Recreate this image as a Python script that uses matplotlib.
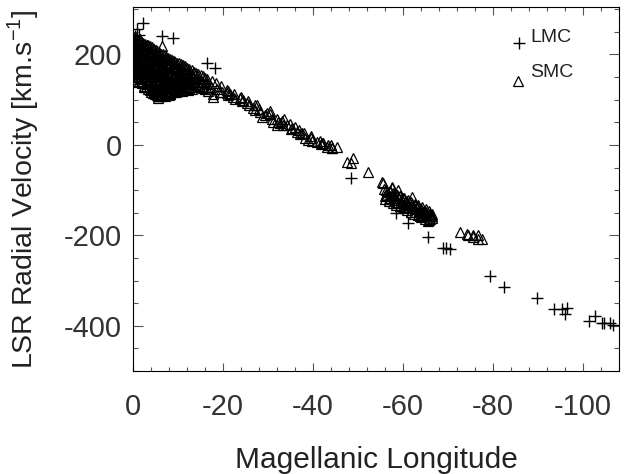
import matplotlib
matplotlib.use("Agg")
import matplotlib.pyplot as plt
from matplotlib.ticker import MultipleLocator

plt.rcParams['font.family'] = ['Liberation Sans', 'DejaVu Sans']
plt.rcParams['axes.unicode_minus'] = False

# LMC points (Magellanic longitude, LSR velocity km/s)
lmc_lon = [-2.2, -0.9, -1.3, -6.4, -8.8, -16.4, -18.2,
           -0.5, -0.3, -0.8, -0.5, -1.2, -0.2, -1.6,
           -48.4, -58.4, -61.2, -65.6, -68.9, -69.5, -70.5,
           -57.0, -60.0, -62.0, -64.0,
           -79.3, -82.4, -89.8, -93.6, -95.3, -96.0, -96.5,
           -101.4, -102.7, -104.2, -104.7, -106.0, -106.6]
lmc_vlsr = [269, 256, 242, 240, 236, 182, 171,
            240, 220, 205, 190, 175, 200, 212,
            -73, -151, -173, -204, -227, -229, -230,
            -120, -135, -145, -155,
            -291, -315, -338, -362, -362, -373, -360,
            -389, -378, -393, -393, -393, -398]

# SMC points: dense cluster near the SMC, the bridge, then the stream
smc_lon = [
    -0.3, -0.4, -0.2, -0.5, -0.3, -0.4,
    -1.0, -1.1, -0.9, -1.0, -1.2, -1.0, -0.9,
    -1.8, -1.9, -1.7, -1.8, -2.0, -1.8, -1.7,
    -2.6, -2.5, -2.7, -2.6, -2.8, -2.6, -2.5,
    -3.4, -3.3, -3.5, -3.4, -3.6, -3.4, -3.3,
    -4.2, -4.1, -4.3, -4.2, -4.4, -4.2, -4.1,
    -5.0, -5.1, -4.9, -5.0, -5.2, -5.0, -4.9,
    -5.8, -5.7, -5.9, -5.8, -6.0, -5.8, -5.7,
    -6.6, -6.5, -6.7, -6.6, -6.8, -6.6,
    -7.4, -7.3, -7.5, -7.4, -7.6, -7.4,
    -8.2, -8.1, -8.3, -8.2, -8.4, -8.2,
    -9.0, -9.1, -8.9, -9.0, -9.2,
    -9.8, -9.7, -9.9, -9.8, -10.0,
    -10.6, -10.5, -10.7, -10.6, -10.8,
    -11.5, -11.4, -11.6, -11.5,
    -12.5, -12.4, -12.6, -12.5,
    -13.5, -13.4, -13.6,
    -14.5, -14.4, -14.6,
    -15.5, -15.4, -15.6,
    -16.5, -16.4, -16.6,
    -17.5, -17.4, -17.8,
    -18.5, -18.6, -19.5, -19.4,
    -0.6, -0.7, -0.5, -0.6, -0.8, -0.6, -0.5,
    -1.4, -1.5, -1.3, -1.4, -1.6, -1.4, -1.3,
    -2.2, -2.3, -2.1, -2.2, -2.4, -2.2, -2.1,
    -3.0, -3.1, -2.9, -3.0, -3.2, -3.0, -2.9,
    -3.8, -3.9, -3.7, -3.8, -4.0, -3.8, -3.7,
    -4.6, -4.7, -4.5, -4.6, -4.8, -4.6, -4.5,
    -5.4, -5.5, -5.3, -5.4, -5.6, -5.4, -5.3,
    -6.2, -6.3, -6.1, -6.2, -6.4, -6.2, -6.1,
    -7.0, -7.1, -6.9, -7.0, -7.2, -7.0,
    -7.8, -7.9, -7.7, -7.8, -8.0, -7.8,
    -8.6, -8.7, -8.5, -8.6, -8.8,
    -9.4, -9.5, -9.3, -9.4, -9.6,
    -10.2, -10.3, -10.1, -10.2, -10.4,
    -11.0, -11.1, -10.9, -11.0,
    -12.0, -12.1, -11.9, -12.0,
    -13.0, -13.1, -12.9, -13.0,
    -14.0, -14.1, -13.9,
    -15.0, -15.1, -14.9,
    -16.0, -16.1, -15.9,
    -0.1, -0.1, -0.1, -0.1, -0.1,
    -0.9, -0.9, -0.9, -0.9,
    -1.6, -1.6, -1.6, -1.6,
    -2.4, -2.4, -2.4, -2.4,
    -3.2, -3.2, -3.2, -3.2,
    -4.0, -4.0, -4.0, -4.0,
    -4.8, -4.8, -4.8, -4.8,
    -5.6, -5.6, -5.6, -5.6,
    -6.4, -6.4, -6.4, -6.4,
    -7.2, -7.2, -7.2, -7.2,
    -8.0, -8.0, -8.0, -8.0,
    -8.8, -8.8, -8.8,
    -9.6, -9.6, -9.6,
    -10.4, -10.4, -10.4,
    -11.2, -11.2, -11.2,
    -12.2, -12.2, -12.2,
    -13.2, -13.2, -13.2,
    -6.4, -5.6, -8.2, -10.2, -14.4, -17.8, -20.9,
    -19.8, -20.9, -22.2, -23.8, -25.3, -26.7, -29.8, -28.7, -29.3,
    -31.1, -32.7, -34.2, -35.3, -36.4, -37.6, -38.9, -40.9, -42.2,
    -43.3, -32.0, -21.5, -24.5, -27.5, -30.5, -33.5, -36.0, -39.5,
    -21.0, -21.2, -22.5, -22.7, -24.0, -24.2, -25.5, -25.7, -27.0,
    -27.2, -28.0, -28.2, -30.5, -30.8, -32.0, -32.3, -33.0, -33.3,
    -34.8, -35.0, -36.8, -37.0, -38.0, -38.3, -39.5, -39.8, -41.5,
    -41.8, -44.0, -44.3,
    -42.0, -43.0, -44.2, -45.3, -47.5, -48.9, -48.4, -52.2, -55.3,
    -57.6, -58.9, -55.6, -57.5, -62.0,
    -55.8, -56.5, -57.2, -58.0, -58.6, -59.3, -60.0, -60.6, -61.3,
    -62.0, -62.6, -63.3, -64.0, -64.6, -65.2, -65.9, -66.5,
    -56.0, -57.0, -58.2, -59.5, -60.8, -62.2, -63.5, -64.8, -66.0,
    -56.8, -58.5, -60.2, -61.8, -63.8, -65.5,
    -56.2, -56.3, -56.1, -57.0, -57.1, -56.9, -57.8, -57.9, -57.7,
    -58.6, -58.7, -58.5, -59.4, -59.5, -59.3, -60.2, -60.3, -60.1,
    -61.0, -61.1, -60.9, -61.8, -61.9, -61.7, -62.6, -62.7, -62.5,
    -63.4, -63.5, -63.3, -64.2, -64.3, -64.1, -65.0, -65.1, -64.9,
    -65.8, -65.9, -65.7, -66.4, -66.5,
    -72.7, -74.2, -75.6, -76.7, -74.4, -75.6, -76.7, -77.5,
]
smc_vlsr = [
    225, 210, 195, 180, 165, 150,
    232, 218, 200, 188, 172, 158, 146,
    228, 212, 196, 182, 168, 152, 140,
    224, 208, 190, 176, 160, 146, 130,
    220, 204, 186, 170, 156, 138, 124,
    216, 198, 182, 166, 150, 132, 118,
    210, 194, 176, 160, 144, 128, 112,
    205, 188, 172, 156, 138, 122, 108,
    200, 184, 166, 150, 134, 118,
    195, 178, 162, 146, 130, 116,
    190, 174, 158, 142, 126, 113,
    186, 170, 154, 138, 124,
    182, 166, 150, 134, 120,
    178, 162, 146, 132, 120,
    174, 158, 142, 128,
    168, 152, 138, 126,
    162, 148, 134,
    156, 142, 130,
    152, 138, 126,
    146, 134, 120,
    142, 128, 112,
    136, 124, 130, 118,
    236, 222, 204, 190, 174, 160, 150,
    230, 214, 198, 184, 170, 156, 142,
    226, 210, 194, 178, 164, 150, 136,
    222, 206, 188, 172, 158, 142, 128,
    218, 200, 184, 168, 152, 136, 122,
    212, 196, 178, 162, 146, 130, 115,
    208, 190, 174, 158, 140, 124, 110,
    202, 186, 168, 152, 136, 120, 108,
    198, 180, 164, 148, 132, 116,
    192, 176, 160, 144, 128, 114,
    188, 172, 156, 140, 125,
    184, 168, 152, 136, 122,
    180, 164, 148, 133, 121,
    176, 160, 144, 130,
    171, 155, 140, 127,
    165, 150, 136, 124,
    159, 145, 132,
    154, 140, 128,
    149, 136, 123,
    238, 214, 186, 160, 140,
    226, 194, 166, 152,
    234, 206, 176, 148,
    218, 186, 156, 128,
    214, 196, 164, 134,
    208, 190, 158, 126,
    202, 186, 154, 120,
    198, 164, 130, 104,
    192, 158, 126, 110,
    188, 154, 124, 108,
    184, 150, 120, 110,
    180, 146, 118,
    174, 142, 116,
    170, 138, 126,
    166, 150, 122,
    160, 146, 122,
    156, 142, 128,
    218, 109, 113, 122, 142, 107, 115,
    118, 122, 107, 104, 93, 82, 71, 62, 67,
    51, 49, 44, 38, 29, 27, 11, 7, 4,
    0, 44, 112, 100, 88, 74, 58, 40, 20,
    120, 110, 112, 102, 106, 96, 98, 88, 88,
    78, 80, 72, 68, 58, 58, 50, 52, 44,
    46, 36, 34, 24, 26, 16, 16, 8, 8,
    2, 0, -6,
    4, -4, -7, -4, -38, -29, -40, -60, -82,
    -96, -100, -84, -93, -116,
    -98, -104, -102, -108, -110, -114, -118, -124, -126,
    -130, -134, -138, -142, -146, -148, -152, -158,
    -112, -118, -122, -128, -134, -140, -148, -156, -164,
    -120, -126, -138, -148, -158, -168,
    -100, -110, -120, -104, -114, -124, -106, -118, -128,
    -110, -122, -132, -114, -126, -136, -118, -130, -140,
    -122, -134, -144, -126, -138, -148, -130, -142, -152,
    -134, -146, -156, -138, -150, -160, -142, -154, -164,
    -146, -158, -166, -152, -162,
    -193, -198, -200, -200, -200, -204, -207, -207,
]

fig = plt.figure(figsize=(6.28, 4.74), dpi=100)
ax = fig.add_axes([0.2118, 0.2173, 0.7739, 0.7680])

ax.plot(smc_lon, smc_vlsr, linestyle='none', marker='^', markersize=7,
        markerfacecolor='none', markeredgecolor='black', markeredgewidth=0.9)
ax.plot(lmc_lon, lmc_vlsr, linestyle='none', marker='+', markersize=8,
        color='black', markeredgewidth=1.0)

ax.set_xlim(0, -108)
ax.set_ylim(-500, 305)
ax.xaxis.set_major_locator(MultipleLocator(20))
ax.xaxis.set_minor_locator(MultipleLocator(4))
ax.yaxis.set_major_locator(MultipleLocator(200))
ax.yaxis.set_minor_locator(MultipleLocator(50))
ax.tick_params(which='both', direction='in', top=True, right=True,
               width=0.8, color='#555555', labelcolor='#333333')
ax.tick_params(axis='x', which='major', length=5.5, pad=16, labelsize=21)
ax.tick_params(axis='x', which='minor', length=2.8)
ax.tick_params(axis='y', which='major', length=7, pad=8, labelsize=21)
ax.tick_params(axis='y', which='minor', length=3.6)
for s in ax.spines.values():
    s.set_linewidth(0.8)

ax.set_xlabel('Magellanic Longitude', fontsize=21.5, color='#222222')
ax.set_ylabel(r'LSR Radial Velocity [km.s$^{\mathregular{-1}}$]', fontsize=20.5,
              color='#222222')
ax.xaxis.set_label_coords(0.5, -0.205)
ax.yaxis.set_label_coords(-0.19, 0.5)

# legend drawn by hand, as in the original
ax.plot([0.794], [0.900], transform=ax.transAxes, linestyle='none',
        marker='+', markersize=8, color='black', markeredgewidth=1.0)
ax.text(0.817, 0.916, 'LMC', transform=ax.transAxes, fontsize=14,
        va='center', ha='left', color='#222222')
ax.plot([0.792], [0.797], transform=ax.transAxes, linestyle='none',
        marker='^', markersize=7, markerfacecolor='none',
        markeredgecolor='black', markeredgewidth=0.9)
ax.text(0.817, 0.820, 'SMC', transform=ax.transAxes, fontsize=14,
        va='center', ha='left', color='#222222')

fig.savefig('out.png', dpi=100)
